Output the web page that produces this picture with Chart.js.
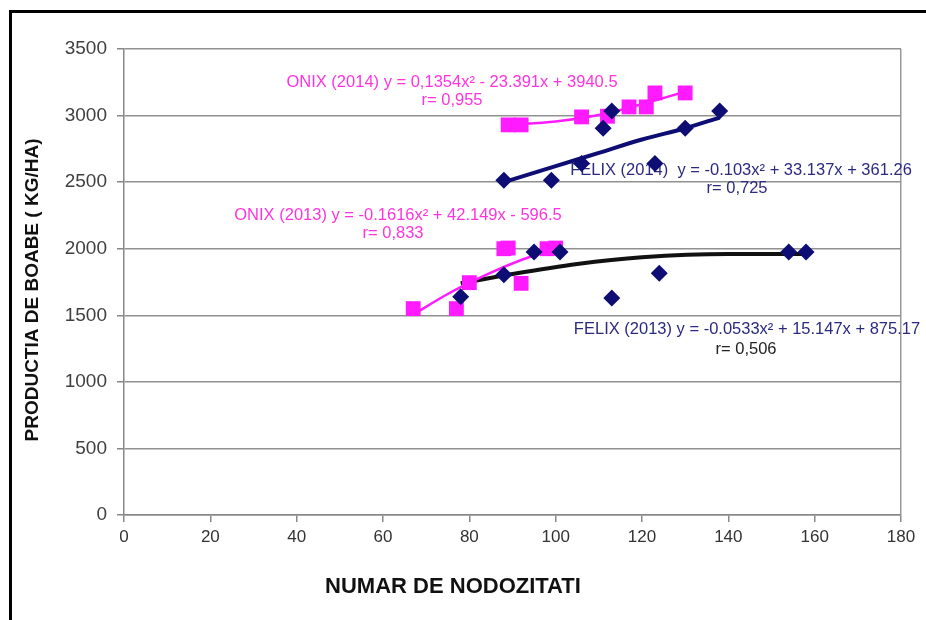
<!DOCTYPE html>
<html>
<head>
<meta charset="utf-8">
<script src="https://cdn.jsdelivr.net/npm/chart.js@4"></script>
<style>
    body { margin: 0; background: #fff; }
    canvas { display: block; }
</style>
</head>
<body>
<canvas id="grafic" width="926" height="620"></canvas>
<script>
// Puncte masurate (numar nodozitati, productie kg/ha)
const felix2014X = [88, 99, 106, 111, 113, 123, 130, 138];
const felix2014Y = [2515, 2515, 2640, 2905, 3035, 2640, 2905, 3035];
const felix2013X = [78, 88, 95, 101, 113, 124, 154, 158];
const felix2013Y = [1640, 1805, 1975, 1975, 1630, 1815, 1975, 1975];
const onix2014X = [89, 92, 106, 112, 117, 121, 123, 130];
const onix2014Y = [2930, 2930, 2990, 2995, 3065, 3065, 3170, 3170];
const onix2013X = [67, 77, 80, 88, 89, 92, 98, 100];
const onix2013Y = [1550, 1550, 1745, 2000, 2005, 1740, 2000, 2005];

// Linii de tendinta
const trendFelix2014X = [88, 100, 110, 120, 130, 138];
const trendFelix2014Y = [2500, 2620, 2720, 2820, 2905, 2985];
const trendFelix2013X = [78, 90, 105, 120, 140, 158];
const trendFelix2013Y = [1740, 1810, 1885, 1935, 1960, 1960];
const trendOnix2014X = [89, 100, 110, 120, 130];
const trendOnix2014Y = [2930, 2955, 3005, 3085, 3180];
const trendOnix2013X = [67, 75, 85, 92, 100];
const trendOnix2013Y = [1505, 1660, 1820, 1915, 2005];

const xTicks = [0, 20, 40, 60, 80, 100, 120, 140, 160, 180];
const yTicks = [0, 500, 1000, 1500, 2000, 2500, 3000, 3500];

const NAVY = '#0d0d73';
const MAGENTA = '#ff1aff';

const pairs = (xs, ys) => xs.map((x, i) => ({ x: x, y: ys[i] }));

// Ecuatiile afisate pe grafic
const labels = [
    { x: 452, y: 82, text: 'ONIX (2014) y = 0,1354x² - 23.391x + 3940.5', color: '#ff33dd' },
    { x: 452, y: 100, text: 'r= 0,955', color: '#ff33dd' },
    { x: 398, y: 215, text: 'ONIX (2013) y = -0.1616x² + 42.149x - 596.5', color: '#ff33dd' },
    { x: 393, y: 233, text: 'r= 0,833', color: '#ff33dd' },
    { x: 741, y: 170, text: 'FELIX (2014)  y = -0.103x² + 33.137x + 361.26', color: '#2a2a80' },
    { x: 737, y: 188, text: 'r= 0,725', color: '#2a2a80' },
    { x: 747, y: 329, text: 'FELIX (2013) y = -0.0533x² + 15.147x + 875.17', color: '#2a2a80' },
    { x: 746, y: 349, text: 'r= 0,506', color: '#222' }
];

const labelsPlugin = {
    id: 'ecuatii',
    beforeDatasetsDraw(chart) {
        const ctx = chart.ctx;
        ctx.save();
        ctx.font = '16.5px "Liberation Sans", Arial, sans-serif';
        ctx.textAlign = 'center';
        ctx.textBaseline = 'middle';
        labels.forEach(l => {
            ctx.fillStyle = l.color;
            ctx.fillText(l.text, l.x, l.y);
        });
        ctx.restore();
    },
    afterDraw(chart) {
        const ctx = chart.ctx;
        ctx.save();
        // chenar exterior
        ctx.strokeStyle = '#000';
        ctx.lineWidth = 3;
        ctx.strokeRect(10.5, 11.5, 1000, 1000);
        // titluri axe
        ctx.fillStyle = '#111';
        ctx.textAlign = 'center';
        ctx.textBaseline = 'middle';
        ctx.font = 'bold 22px "Liberation Sans", Arial, sans-serif';
        ctx.fillText('NUMAR DE NODOZITATI', 453, 587);
        ctx.translate(33, 290);
        ctx.rotate(-Math.PI / 2);
        ctx.font = 'bold 19px "Liberation Sans", Arial, sans-serif';
        ctx.fillText('PRODUCTIA DE BOABE ( KG/HA)', 0, 0);
        ctx.restore();
    }
};

const ctx = document.getElementById('grafic').getContext('2d');
new Chart(ctx, {
    type: 'scatter',
    data: {
        datasets: [
            { label: 'FELIX 2014', data: pairs(felix2014X, felix2014Y), pointStyle: 'rectRot', pointRadius: 8.5, backgroundColor: NAVY, borderColor: NAVY, borderWidth: 0 },
            { label: 'FELIX 2013', data: pairs(felix2013X, felix2013Y), pointStyle: 'rectRot', pointRadius: 8.5, backgroundColor: NAVY, borderColor: NAVY, borderWidth: 0 },
            { label: 'ONIX 2014', data: pairs(onix2014X, onix2014Y), pointStyle: 'rect', pointRadius: 10.5, backgroundColor: MAGENTA, borderColor: MAGENTA, borderWidth: 0 },
            { label: 'ONIX 2013', data: pairs(onix2013X, onix2013Y), pointStyle: 'rect', pointRadius: 10.5, backgroundColor: MAGENTA, borderColor: MAGENTA, borderWidth: 0 },
            { label: 'tend ONIX 2014', data: pairs(trendOnix2014X, trendOnix2014Y), showLine: true, pointRadius: 0, borderColor: MAGENTA, borderWidth: 2.5, tension: 0.4, cubicInterpolationMode: 'monotone' },
            { label: 'tend ONIX 2013', data: pairs(trendOnix2013X, trendOnix2013Y), showLine: true, pointRadius: 0, borderColor: MAGENTA, borderWidth: 2.5, tension: 0.4, cubicInterpolationMode: 'monotone' },
            { label: 'tend FELIX 2014', data: pairs(trendFelix2014X, trendFelix2014Y), showLine: true, pointRadius: 0, borderColor: NAVY, borderWidth: 4, tension: 0.4, cubicInterpolationMode: 'monotone' },
            { label: 'tend FELIX 2013', data: pairs(trendFelix2013X, trendFelix2013Y), showLine: true, pointRadius: 0, borderColor: '#111', borderWidth: 4, tension: 0.4, cubicInterpolationMode: 'monotone' }
        ]
    },
    options: {
        responsive: false,
        animation: false,
        layout: { padding: { left: 0, top: 49, right: 25, bottom: 0 } },
        plugins: {
            legend: { display: false },
            tooltip: { enabled: false }
        },
        scales: {
            x: {
                type: 'linear',
                min: 0,
                max: 180,
                afterFit: s => { s.height = 105; },
                afterBuildTicks: s => { s.ticks = xTicks.map(v => ({ value: v })); },
                border: { color: '#888', width: 1.5 },
                grid: {
                    color: c => (c.tick && c.tick.value === 180 ? '#999' : 'rgba(0,0,0,0)'),
                    tickColor: '#888',
                    tickLength: 7,
                    lineWidth: 1.5
                },
                ticks: {
                    padding: 5,
                    color: '#333',
                    callback: v => String(v),
                    font: { family: '"Liberation Sans", Arial', size: 17 }
                }
            },
            y: {
                min: 0,
                max: 3500,
                afterFit: s => { s.width = 124; },
                afterBuildTicks: s => { s.ticks = yTicks.map(v => ({ value: v })); },
                border: { color: '#888', width: 1.5 },
                grid: {
                    color: '#919191',
                    tickColor: '#888',
                    tickLength: 7,
                    lineWidth: 1.5
                },
                ticks: {
                    padding: 10,
                    color: '#404040',
                    callback: v => String(v),
                    font: { family: '"Liberation Sans", Arial', size: 19 }
                }
            }
        }
    },
    plugins: [labelsPlugin]
});
</script>
</body>
</html>
